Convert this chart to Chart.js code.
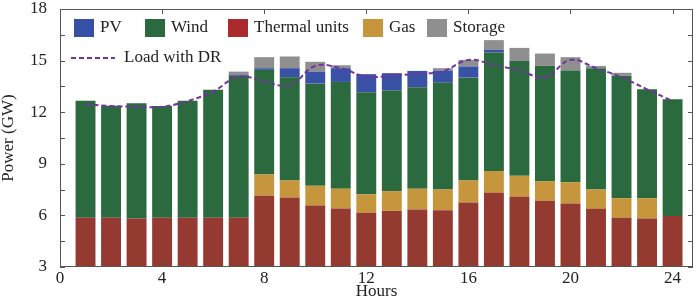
<!DOCTYPE html>
<html>
<head>
<meta charset="utf-8">
<script src="https://cdn.jsdelivr.net/npm/chart.js@4.4.1/dist/chart.umd.min.js"></script>
<style>
    body { margin: 0; background: #fff; }
    #contenedor { width: 699px; height: 300px; }
</style>
</head>
<body>
<div id="contenedor"><canvas id="grafico"></canvas></div>
<script>
var HORAS = [1, 2, 3, 4, 5, 6, 7, 8, 9, 10, 11, 12, 13, 14, 15, 16, 17, 18, 19, 20, 21, 22, 23, 24];
var TERMICA = [5.86, 5.86, 5.82, 5.86, 5.86, 5.86, 5.86, 7.14, 7.04, 6.57, 6.40, 6.15, 6.26, 6.34, 6.30, 6.75, 7.31, 7.08, 6.85, 6.69, 6.38, 5.86, 5.82, 5.97];
var GAS = [0, 0, 0, 0, 0, 0, 0, 1.24, 0.99, 1.15, 1.15, 1.08, 1.15, 1.21, 1.21, 1.28, 1.27, 1.22, 1.14, 1.24, 1.13, 1.14, 1.18, 0];
var EOLICA = [6.81, 6.52, 6.70, 6.50, 6.81, 7.44, 8.25, 6.08, 6.00, 5.94, 6.21, 5.93, 5.85, 5.90, 6.21, 5.98, 6.89, 6.67, 6.70, 6.49, 7.05, 7.11, 6.33, 6.78];
var SOLAR = [0, 0, 0, 0, 0, 0, 0.05, 0.10, 0.53, 0.70, 0.80, 1.05, 1.01, 0.95, 0.70, 0.65, 0.16, 0, 0, 0, 0, 0, 0, 0];
var ALMACEN = [0, 0, 0, 0, 0, 0, 0.20, 0.64, 0.68, 0.57, 0.17, 0, 0, 0, 0.14, 0.38, 0.56, 0.77, 0.72, 0.78, 0.13, 0.18, 0, 0];
var CARGA = [12.46, 12.36, 12.32, 12.32, 12.65, 13.20, 14.07, 13.78, 13.57, 14.69, 14.56, 14.07, 14.13, 14.23, 14.38, 15.04, 14.75, 14.42, 14.03, 15.04, 14.56, 14.03, 13.33, 12.65];
var TICKS_X = [0, 4, 8, 12, 16, 20, 24];
var TICKS_Y = [3, 6, 9, 12, 15, 18];

var FUENTE = 'Liberation Serif';

function puntos(valores) {
    return HORAS.map(function (h, i) {
        return {x: h, y: valores[i]};
    });
}

function barra(nombre, valores, color) {
    return {
        type: 'bar',
        label: nombre,
        data: puntos(valores),
        backgroundColor: color,
        borderWidth: 0,
        barPercentage: 0.78,
        categoryPercentage: 1,
        order: 1
    };
}

// leyenda dentro del area del grafico, en dos filas
var leyendaInterna = {
    id: 'leyendaInterna',
    afterDatasetsDraw: function (chart) {
        var ctx = chart.ctx;
        var a = chart.chartArea;
        var items = [
            {txt: 'PV', color: '#3650a6', dx: 14},
            {txt: 'Wind', color: '#2a6a3e', dx: 85},
            {txt: 'Thermal units', color: '#ab2a2c', dx: 168},
            {txt: 'Gas', color: '#c6963c', dx: 303},
            {txt: 'Storage', color: '#8f8f8f', dx: 367}
        ];
        ctx.save();
        ctx.font = '17px "' + FUENTE + '"';
        ctx.textBaseline = 'middle';
        for (var i in items) {
            var it = items[i];
            ctx.fillStyle = it.color;
            ctx.fillRect(a.left + it.dx, a.top + 10, 20, 18);
            ctx.fillStyle = '#222';
            ctx.fillText(it.txt, a.left + it.dx + 26, a.top + 19);
        }
        ctx.strokeStyle = '#7232a0';
        ctx.lineWidth = 2;
        ctx.setLineDash([5, 3]);
        ctx.beginPath();
        ctx.moveTo(a.left + 11, a.top + 49);
        ctx.lineTo(a.left + 55, a.top + 49);
        ctx.stroke();
        ctx.setLineDash([]);
        ctx.fillStyle = '#222';
        ctx.fillText('Load with DR', a.left + 64, a.top + 49);
        ctx.restore();
    }
};

// marco y marcas hacia adentro en los cuatro lados
var marco = {
    id: 'marco',
    afterDraw: function (chart) {
        var ctx = chart.ctx;
        var a = chart.chartArea;
        var sx = chart.scales.x;
        var sy = chart.scales.y;
        ctx.save();
        ctx.strokeStyle = '#555';
        ctx.lineWidth = 1;
        ctx.strokeRect(a.left + 0.5, a.top + 0.5, a.right - a.left - 1, a.bottom - a.top - 1);
        ctx.beginPath();
        for (var i in TICKS_X) {
            var px = Math.round(sx.getPixelForValue(TICKS_X[i])) + 0.5;
            ctx.moveTo(px, a.bottom);
            ctx.lineTo(px, a.bottom - 5);
            ctx.moveTo(px, a.top);
            ctx.lineTo(px, a.top + 5);
        }
        for (var v = 3; v <= 18; v += 1.5) {
            var py = Math.round(sy.getPixelForValue(v)) + 0.5;
            ctx.moveTo(a.left, py);
            ctx.lineTo(a.left + 5, py);
            ctx.moveTo(a.right, py);
            ctx.lineTo(a.right - 5, py);
        }
        ctx.stroke();
        ctx.restore();
    }
};

var datasets = [
    barra('Thermal units', TERMICA, '#943a30'),
    barra('Gas', GAS, '#c6963c'),
    barra('Wind', EOLICA, '#2a6a3e'),
    barra('PV', SOLAR, '#3a52a6'),
    barra('Storage', ALMACEN, '#8f8f8f'),
    {
        type: 'line',
        label: 'Load with DR',
        data: puntos(CARGA),
        borderColor: '#7232a0',
        borderWidth: 2,
        borderDash: [5, 3],
        pointRadius: 0,
        tension: 0.4,
        fill: false,
        stack: 'carga',
        order: 0
    }
];

var GRAFICO = new Chart(document.getElementById('grafico'), {
    type: 'bar',
    data: {datasets: datasets},
    plugins: [leyendaInterna, marco],
    options: {
        responsive: true,
        maintainAspectRatio: false,
        animation: false,
        layout: {autoPadding: false, padding: {top: 0, right: 6, left: 0, bottom: 0}},
        plugins: {
            legend: {display: false},
            tooltip: {enabled: false}
        },
        scales: {
            x: {
                type: 'linear',
                stacked: true,
                offset: false,
                min: 0,
                max: 24.8,
                grid: {display: false, drawTicks: false, offset: false},
                border: {display: false},
                afterBuildTicks: function (scale) {
                    scale.ticks = TICKS_X.map(function (t) { return {value: t}; });
                },
                ticks: {
                    color: '#222',
                    padding: 3,
                    maxRotation: 0,
                    font: {family: FUENTE, size: 17, lineHeight: 1}
                },
                title: {
                    display: true,
                    text: 'Hours',
                    color: '#222',
                    padding: {top: -7, bottom: 0},
                    font: {family: FUENTE, size: 17, lineHeight: 1}
                }
            },
            y: {
                stacked: true,
                min: 3,
                max: 18,
                grid: {display: false, drawTicks: false},
                border: {display: false},
                afterBuildTicks: function (scale) {
                    scale.ticks = TICKS_Y.map(function (t) { return {value: t}; });
                },
                afterFit: function (scale) {
                    scale.paddingTop = 9;
                },
                ticks: {
                    color: '#222',
                    padding: 13,
                    font: {family: FUENTE, size: 17, lineHeight: 1}
                },
                title: {
                    display: true,
                    text: 'Power (GW)',
                    color: '#222',
                    padding: {top: 0, bottom: 0},
                    font: {family: FUENTE, size: 17, lineHeight: 1}
                }
            }
        }
    }
});
</script>
</body>
</html>
